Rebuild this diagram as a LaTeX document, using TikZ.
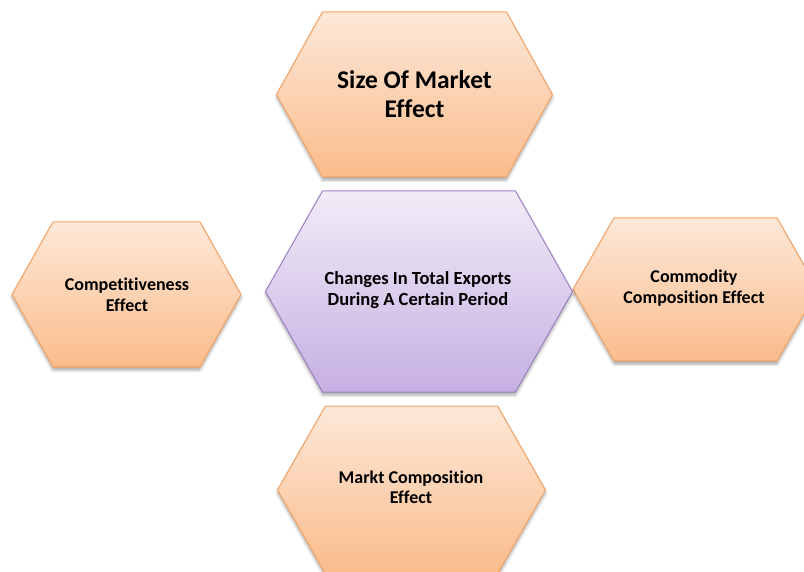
\documentclass[tikz,border=0pt]{standalone}
\usepackage{fontspec}
\setmainfont{Carlito}[Ligatures={NoCommon,NoContextual}]
\usetikzlibrary{shadows.blur}

\definecolor{orTop}{RGB}{253,232,216}
\definecolor{orBot}{RGB}{250,188,140}
\definecolor{orLine}{RGB}{244,162,98}
\definecolor{puTop}{RGB}{241,236,248}
\definecolor{puBot}{RGB}{198,176,226}
\definecolor{puLine}{RGB}{158,128,194}

\tikzset{
  hexbase/.style={line width=1pt,
    blur shadow={shadow xshift=0pt, shadow yshift=-3pt,
                 shadow blur radius=3pt, shadow opacity=35}},
  orangehex/.style={hexbase, draw=orLine, top color=orTop, bottom color=orBot},
  purplehex/.style={hexbase, draw=puLine, top color=puTop, bottom color=puBot},
  hextext/.style={align=center, font=\bfseries\fontsize{18}{20.5}\selectfont, text=black},
  bigtext/.style={align=center, font=\bfseries\fontsize{25.5}{28.5}\selectfont, text=black},
  midtext/.style={align=center, font=\bfseries\fontsize{18.5}{20.5}\selectfont, text=black}
}

% #1 style, #2 centre x, #3 centre y, #4 half width, #5 slant inset, #6 half height
\newcommand\hexpath[6]{%
  \path[#1] (#2-#4,#3) -- (#2-#4+#5,#3-#6) -- (#2+#4-#5,#3-#6)
    -- (#2+#4,#3) -- (#2+#4-#5,#3+#6) -- (#2-#4+#5,#3+#6) -- cycle;}

\begin{document}
\begin{tikzpicture}[x=1pt, y=-1pt]
  \useasboundingbox (0,0) rectangle (804,572);
  \clip (0,0) rectangle (804,572);

  % hexagon tiles
  \hexpath{orangehex}{414.5}{94.5}{138}{46}{82.5}
  \hexpath{orangehex}{126.5}{294.5}{114.5}{41}{72.5}
  \hexpath{orangehex}{695.5}{289.5}{122.5}{41}{71.5}
  \hexpath{orangehex}{411.5}{490}{134}{48}{84}
  \hexpath{purplehex}{419}{291.5}{153.5}{57}{100.5}

  % labels
  \node[bigtext] (size) at (414.5,94) {Size Of Market\\Effect};
  \node[midtext] (total) at (418,290) {Changes In Total Exports\\During A Certain Period};
  \node[hextext] (compet) at (127,295) {Competitiveness\\Effect};
  \node[hextext] (commod) at (694,288) {Commodity\\Composition Effect};
  \node[hextext] (markt) at (411,487) {Markt Composition\\Effect};
\end{tikzpicture}
\end{document}
